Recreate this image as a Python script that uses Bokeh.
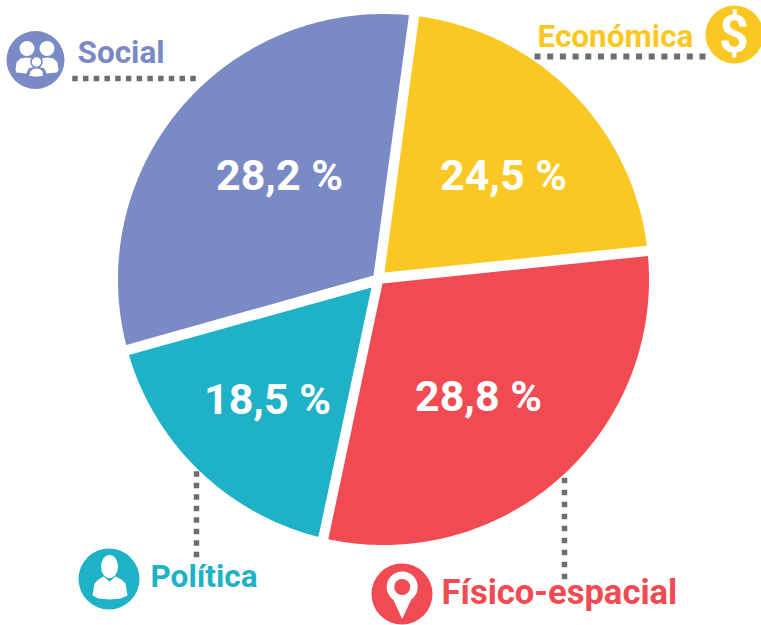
import numpy as np
from bokeh.plotting import figure
from bokeh.embed import file_html
from bokeh.resources import INLINE
from bokeh.core.properties import value

# Segment names, printed percentages and the sweep of each drawn segment (degrees, as drawn)
names = ["Económica", "Físico-espacial", "Política", "Social"]
labels = ["24,5 %", "28,8 %", "18,5 %", "28,2 %"]
sweeps = [77.2, 109.3, 61.5, 112.0]
start_angle = 6.6
colors = ["#fbc723", "#f04a52", "#1fb1c6", "#7a8ac4"]
GREY = "#6d6e71"
FONT = value("Roboto")

W, H = 761, 625
p = figure(width=W, height=H, x_range=(0, W), y_range=(H, 0), output_backend="svg",
           toolbar_location=None, min_border=0, outline_line_color=None)
p.axis.visible = False
p.grid.visible = False
p.background_fill_color = "white"

CX, CY, R = 383.0, 279.0, 265.5
GAP = 1.1
apex = [(384, 272), (382, 283), (371, 287), (373, 275)]
label_pos = [(503, 174.5), (478, 395), (267, 398), (279, 174.5)]


def dotted(xs, ys, size):
    p.scatter(xs, ys, marker="square", size=size, fill_color=GREY, line_color=None)


# leader lines sit under the pie
dotted(np.linspace(74.5, 192.5, 12), np.full(12, 78.0), 5.5)
dotted(np.linspace(537, 702, 14), np.full(14, 56.0), 6)
dotted(np.full(9, 196.0), np.linspace(462, 554, 9), 5.5)
dotted(np.full(10, 564.0), np.linspace(468, 576, 10), 5.5)

# pie
a = start_angle
for s, c, (ax, ay) in zip(sweeps, colors, apex):
    t = np.radians(np.linspace(a + GAP, a + s - GAP, 120))
    xs = np.r_[ax, CX + R * np.sin(t)]
    ys = np.r_[ay, CY - R * np.cos(t)]
    p.patch(xs, ys, fill_color=c, line_color=None)
    a += s

for (x, y), t in zip(label_pos, labels):
    p.text([x], [y], text=[t], text_color="white", text_font=FONT, text_font_style="bold",
           text_font_size="43px", text_align="center", text_baseline="middle")

# legend labels
for t, c, x, y, size in [
    (names[3], colors[3], 77, 52, "31.5px"),
    (names[0], colors[0], 537, 36, "31.5px"),
    (names[2], colors[2], 150, 576, "31.5px"),
    (names[1], colors[1], 441, 591, "34.6px"),
]:
    p.text([x], [y], text=[t], text_color=c, text_font=FONT, text_font_style="bold",
           text_font_size=size, text_align="left", text_baseline="alphabetic")

# icon discs
p.circle([35], [59.5], radius=29, fill_color=colors[3], line_color=None)
p.circle([734], [34], radius=29, fill_color=colors[0], line_color=None)
p.circle([108.5], [578.5], radius=30.5, fill_color=colors[2], line_color=None)
p.circle([401.5], [593.5], radius=30.5, fill_color=colors[1], line_color=None)

# dollar
p.text([733.5], [33.5], text=["$"], text_color="white", text_font=FONT, text_font_style="bold",
       text_font_size="52px", text_align="center", text_baseline="middle")

# people icon
p.circle([26.5, 46.5], [48, 48], radius=7.5, fill_color="white", line_color=None)
p.patch([15, 16, 20, 26, 32, 36, 36, 28, 26, 16], [70, 62, 58, 57, 58, 60, 66, 68, 73, 72],
        fill_color="white", line_color=None)
p.patch([58, 57, 53, 47, 41, 37, 37, 44, 46, 56], [70, 62, 58, 57, 58, 60, 66, 68, 73, 72],
        fill_color="white", line_color=None)
p.patch([28, 29, 32, 36, 40, 43, 43, 36, 28], [76, 71, 68, 67, 68, 71, 76, 77, 76],
        fill_color="white", line_color=colors[3], line_width=1.5)
p.circle([36], [61.5], radius=5.5, fill_color="white", line_color=colors[3], line_width=1.5)

# person icon
p.ellipse([109], [566], width=17, height=23, fill_color="white", line_color=None)
p.patch([92, 94, 98, 103, 109, 115, 121, 125, 127, 120, 109, 98],
        [595, 583, 579, 576, 581, 576, 579, 583, 595, 598, 599, 598],
        fill_color="white", line_color=None)

# pin icon
t = np.radians(np.linspace(-145, 145, 60))
px = np.r_[401.7 + 15.5 * np.sin(t), 401.7]
py = np.r_[586.5 - 15.5 * np.cos(t), 618.5]
p.patch(px, py, fill_color="white", line_color=None)
p.circle([401.7], [586.5], radius=8, fill_color=colors[1], line_color=None)

html = file_html(p, INLINE)
open("out.html", "w").write(html)
